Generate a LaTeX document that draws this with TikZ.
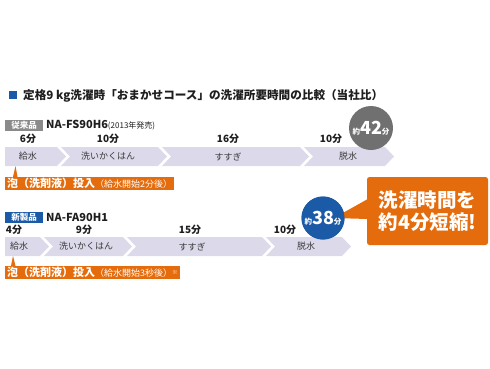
\documentclass[tikz,border=0pt]{standalone}
\usepackage{fontspec}
\setmainfont{Noto Sans CJK JP}
\usetikzlibrary{calc}
\definecolor{bandc}{HTML}{DCDAEA}
\definecolor{orgc}{HTML}{E56C0C}
\definecolor{bluc}{HTML}{1B5AA6}
\definecolor{gryc}{HTML}{707070}
\definecolor{lgryc}{HTML}{8A8A8A}
\definecolor{txtc}{HTML}{1E1E1E}
\definecolor{segc}{HTML}{3A3A3A}
\newcommand{\fsz}[1]{\fontsize{#1}{#1}\selectfont}
% first segment (flat left)
\newcommand{\segfirst}[3]{\fill[bandc] (5,#2) -- (#1,#2) -- (#1+9,#2+9.5) -- (#1,#2+19) -- (5,#2+19) -- cycle;}
% following segments (notched left)
\newcommand{\segnext}[3]{\fill[bandc] (#1,#3) -- (#2,#3) -- (#2+9,#3+9.5) -- (#2,#3+19) -- (#1,#3+19) -- (#1+9,#3+9.5) -- cycle;}
\begin{document}
\begin{tikzpicture}[x=1pt,y=-1pt,
  timelbl/.style={font=\fsz{10}\bfseries, text=txtc, inner sep=0pt},
  seglbl/.style={font=\fsz{9}, text=segc, inner sep=0pt},
  tagbox/.style={text=white, font=\fsz{8.5}\bfseries, minimum width=38pt, minimum height=11pt, inner sep=0pt, anchor=west},
  model/.style={font=\fsz{11}\bfseries, text=txtc, inner sep=0pt, anchor=west},
  foam/.style={fill=orgc, text=white, anchor=west, inner xsep=2pt, inner ysep=0pt, minimum height=13pt},
  bubble/.style={circle, inner sep=0pt, text=white, font=\bfseries}
]
\useasboundingbox (0,0) rectangle (490,368);

% title
\fill[bluc] (9,91) rectangle (17,99);
\node[anchor=west, inner sep=0pt, font=\fsz{11.6}\bfseries, text=txtc] (title) at (23,95.5) {定格9 kg洗濯時「おまかせコース」の洗濯所要時間の比較（当社比）};

% ---------------- row 1
\node[tagbox, fill=lgryc] (tagold) at (5,125) {従来品};
\node[model] (mold) at (46,125) {NA-FS90H6{\fsz{8}\mdseries (2013年発売)}};

\segfirst{57}{147}{}
\segnext{61}{158}{147}
\segnext{162}{300}{147}
\segnext{304}{385}{147}

\node[timelbl] (t11) at (28,138.5) {6分};
\node[timelbl] (t12) at (108,138.5) {10分};
\node[timelbl] (t13) at (228,138.5) {16分};
\node[timelbl] (t14) at (331,138.5) {10分};

\node[seglbl] (s11) at (28,156.5) {給水};
\node[seglbl] (s12) at (108,156.5) {洗いかくはん};
\node[seglbl] (s13) at (228,156.5) {すすぎ};
\node[seglbl] (s14) at (348,156.5) {脱水};

\node[bubble, fill=gryc, minimum size=44pt] (c42) at (371,128) {{\fsz{7.5}約}{\fsz{18}42}{\fsz{7.5}分}};

\node[foam] (foam1) at (5,183.5) {{\fsz{11}\bfseries 泡（洗剤液）投入}{\fsz{9}\mdseries（給水開始2分後）}};
\fill[orgc] ($(foam1.north west)+(8,0)$) -- (15.5,166) -- ($(foam1.north west)+(12.5,0)$) -- cycle;

% ---------------- row 2
\node[tagbox, fill=bluc] (tagnew) at (5,217.5) {新製品};
\node[model] (mnew) at (46,217.5) {NA-FA90H1};

\segfirst{40}{237}{}
\segnext{44}{123}{237}
\segnext{127}{262}{237}
\segnext{266}{342}{237}

\node[timelbl] (t21) at (14,229.5) {4分};
\node[timelbl] (t22) at (84,229.5) {9分};
\node[timelbl] (t23) at (190,229.5) {15分};
\node[timelbl] (t24) at (285,229.5) {10分};

\node[seglbl] (s21) at (19,246.5) {給水};
\node[seglbl] (s22) at (86,246.5) {洗いかくはん};
\node[seglbl] (s23) at (192,246.5) {すすぎ};
\node[seglbl] (s24) at (306,246.5) {脱水};

\node[foam] (foam2) at (5,272.5) {{\fsz{11}\bfseries 泡（洗剤液）投入}{\fsz{9}\mdseries（給水開始3秒後）}\raisebox{2.5pt}{\fsz{5.5}※}\hspace{4pt}};
\fill[orgc] ($(foam2.north west)+(6,0)$) -- (13,256) -- ($(foam2.north west)+(10.5,0)$) -- cycle;

% callout
\node[fill=orgc, rounded corners=2.5pt, minimum width=121pt, minimum height=68pt, inner sep=0pt] (call) at (427.5,211) {};
\node[fill=bluc, bubble, minimum size=43pt] (c38) at (323,218) {};
\fill[orgc] ($(call.west)+(1,-12)$) -- ($(c38.center)!0.5!(c38.east)$) -- ($(call.west)+(1,8)$) -- cycle;
\node[fill=bluc, bubble, minimum size=43pt] (c38b) at (c38) {{\fsz{7.5}約}{\fsz{18}38}{\fsz{7.5}分}};
\node[align=center, text=white, font=\fsz{19.5}\bfseries, inner sep=0pt] (calltxt) at (call) {洗濯時間を\\[3pt]約4分短縮!};
\end{tikzpicture}
\end{document}
